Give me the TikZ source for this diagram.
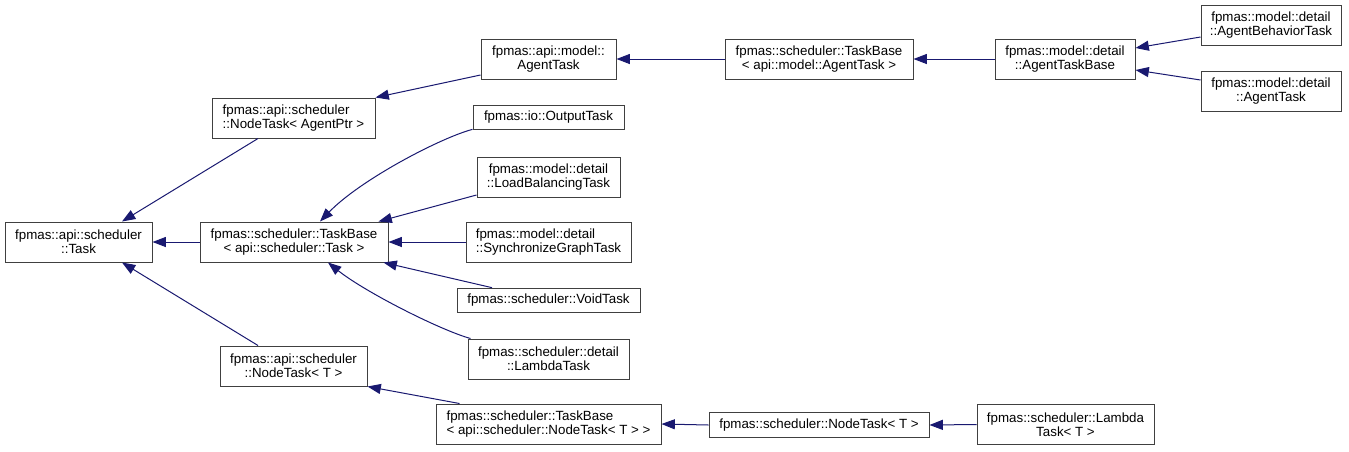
\documentclass[tikz,border=0pt]{standalone}
\usepackage{fontspec}
\setmainfont{Liberation Sans}
\usetikzlibrary{arrows.meta,calc}
\definecolor{edgeblue}{RGB}{25,25,112}
\definecolor{boxgray}{RGB}{64,64,64}
\tikzset{
  cls/.style={draw=boxgray, line width=0.75pt, fill=white, inner sep=1pt,
    font=\fontsize{10pt}{10.6pt}\selectfont, align=center},
  two/.style={minimum height=30pt},
  one/.style={minimum height=18.5pt},
  lft/.style={align=left},
  edge/.style={draw=edgeblue, line width=0.75pt,
    -{Triangle[length=10pt,width=7.5pt]}}
}
\begin{document}
\begin{tikzpicture}[x=0.75pt,y=-0.75pt]
\useasboundingbox (0,0) rectangle (1349,451);

\node[cls,two,minimum width=110.25pt] (task) at (78.5,242) {fpmas::api::scheduler\\::Task};
\node[cls,two,lft,minimum width=122.25pt] (ntap) at (293.5,118) {fpmas::api::scheduler\\::NodeTask< AgentPtr >};
\node[cls,two,minimum width=141pt] (tbt) at (294,242) {fpmas::scheduler::TaskBase\\< api::scheduler::Task >};
\node[cls,two,minimum width=110.25pt] (ntt) at (293.5,366) {fpmas::api::scheduler\\::NodeTask< T >};
\node[cls,two,minimum width=101.25pt] (amat) at (548.5,59) {fpmas::api::model::\\AgentTask};
\node[cls,one,minimum width=113.25pt] (out) at (548.5,117.5) {fpmas::io::OutputTask};
\node[cls,two,minimum width=107.25pt] (lb) at (548.5,177) {fpmas::model::detail\\::LoadBalancingTask};
\node[cls,two,lft,minimum width=123.75pt] (sg) at (548.5,242) {fpmas::model::detail\\::SynchronizeGraphTask};
\node[cls,one,minimum width=137.25pt] (void) at (548.5,300.5) {fpmas::scheduler::VoidTask};
\node[cls,two,minimum width=120.75pt] (lam) at (548.5,359) {fpmas::scheduler::detail\\::LambdaTask};
\node[cls,two,lft,minimum width=168.75pt] (tbnt) at (548.5,424) {fpmas::scheduler::TaskBase\\< api::scheduler::NodeTask< T > >};
\node[cls,two,minimum width=141pt] (tbat) at (819,59) {fpmas::scheduler::TaskBase\\< api::model::AgentTask >};
\node[cls,two,minimum width=105pt] (atb) at (1065,59) {fpmas::model::detail\\::AgentTaskBase};
\node[cls,two,minimum width=105pt] (abt) at (1271,25) {fpmas::model::detail\\::AgentBehaviorTask};
\node[cls,two,minimum width=105pt] (dat) at (1271,91) {fpmas::model::detail\\::AgentTask};
\node[cls,one,minimum width=165pt] (snt) at (819,425) {fpmas::scheduler::NodeTask< T >};
\node[cls,two,minimum width=132.75pt] (lt) at (1065.5,424.5) {fpmas::scheduler::Lambda\\Task< T >};

\draw[edge] ($(ntap.south)+(-35.5,0)$) -- ($(task.north)+(43.5,0)$);
\draw[edge] (tbt.west) -- (task.east);
\draw[edge] ($(ntt.north)+(-35.5,0)$) -- ($(task.south)+(43.5,0)$);
\draw[edge] ($(amat.west)+(0,16)$) -- (ntap.north east);
\draw[edge] ($(out.south west)+(0,-1)$) .. controls (440,138) and (360,180) .. ($(tbt.north)+(26,0)$);
\draw[edge] ($(lb.west)+(0,18)$) -- ($(tbt.north east)+(-10,0)$);
\draw[edge] (sg.west) -- (tbt.east);
\draw[edge] ($(void.north)+(-56.5,0)$) -- ($(tbt.south east)+(-5,0)$);
\draw[edge] ($(lam.north west)+(3,0)$) .. controls (440,330) and (365,292) .. ($(tbt.south)+(34,0)$);
\draw[edge] ($(tbnt.north west)+(24,0)$) -- (ntt.south east);
\draw[edge] (snt.west) -- (tbnt.east);
\draw[edge] (lt.west) -- (snt.east);
\draw[edge] (tbat.west) -- (amat.east);
\draw[edge] (atb.west) -- (tbat.east);
\draw[edge] ($(abt.west)+(0,12)$) -- ($(atb.east)+(0,-11)$);
\draw[edge] ($(dat.west)+(0,-11)$) -- ($(atb.east)+(0,11)$);
\end{tikzpicture}
\end{document}
